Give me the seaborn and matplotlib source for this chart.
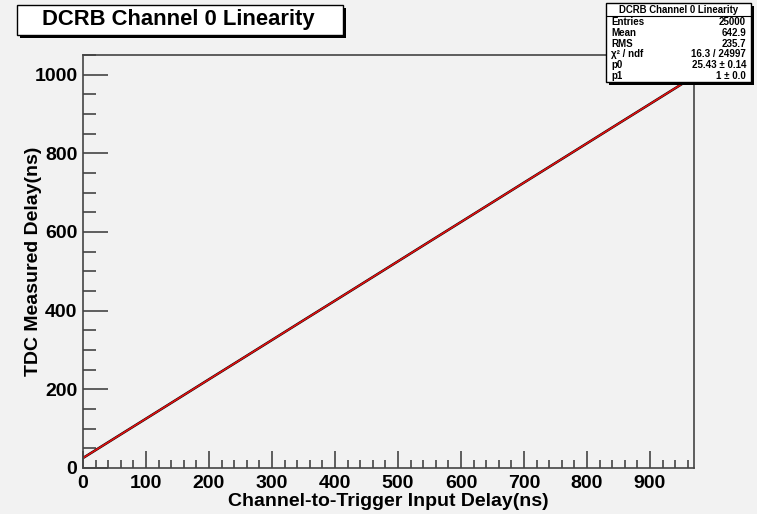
import numpy as np
import pandas as pd
import matplotlib
matplotlib.use('Agg')
import matplotlib.pyplot as plt
from matplotlib.patches import Rectangle
from matplotlib.ticker import MultipleLocator
import seaborn as sns

# values
input_delay = [0, 50, 100, 150, 200, 250, 300, 350, 400, 450, 500,
               550, 600, 650, 700, 750, 800, 850, 900, 960]
measured_delay = [25.4, 75.5, 125.4, 175.4, 225.5, 275.4, 325.4, 375.5, 425.4, 475.4, 525.4,
                  575.5, 625.4, 675.4, 725.5, 775.4, 825.4, 875.5, 925.4, 985.4]
stat_names = ['Entries', 'Mean', 'RMS', '\u03c7\u00b2 / ndf', 'p0', 'p1']
stat_values = ['25000', '642.9', '235.7', '16.3 / 24997', '25.43 \u00b1 0.14', '1 \u00b1 0.0']
p0, p1 = 25.43, 1.0
title = 'DCRB Channel 0 Linearity'

sns.set_style('white')
plt.rcParams['font.family'] = ['Liberation Sans', 'DejaVu Sans']
plt.rcParams['font.weight'] = 'bold'
plt.rcParams['text.color'] = 'black'
plt.rcParams['xtick.labelcolor'] = 'black'
plt.rcParams['ytick.labelcolor'] = 'black'
plt.rcParams['axes.labelcolor'] = 'black'
bg = '#f2f2f2'
axc = '#444444'

fig = plt.figure(figsize=(7.57, 5.14), dpi=100, facecolor=bg)
ax = fig.add_axes([83 / 757, 1 - 468 / 514, 611 / 757, 413 / 514])
ax.set_facecolor(bg)

df = pd.DataFrame({'x': input_delay, 'y': measured_delay})
sns.lineplot(data=df, x='x', y='y', ax=ax, color='black', linewidth=1.8)
fit = pd.DataFrame({'x': [input_delay[0], input_delay[-1]]})
fit['y'] = p0 + p1 * fit['x']
sns.lineplot(data=fit, x='x', y='y', ax=ax, color='#e01010', linewidth=1.2)

ax.set_xlim(0, 970)
ax.set_ylim(0, 1050)
ax.xaxis.set_major_locator(MultipleLocator(100))
ax.xaxis.set_minor_locator(MultipleLocator(20))
ax.yaxis.set_major_locator(MultipleLocator(200))
ax.yaxis.set_minor_locator(MultipleLocator(50))
for s in ax.spines.values():
    s.set_color(axc)
    s.set_linewidth(1.2)
ax.tick_params(axis='x', which='major', direction='in', length=12, width=1.2,
               color=axc, labelsize=14, pad=5, bottom=True, top=False)
ax.tick_params(axis='x', which='minor', direction='in', length=6, width=1.2,
               color=axc, bottom=True, top=False)
ax.tick_params(axis='y', which='major', direction='in', length=18, width=1.2,
               color=axc, labelsize=14, pad=4, left=True, right=False)
ax.tick_params(axis='y', which='minor', direction='in', length=9, width=1.2,
               color=axc, left=True, right=False)
for lab in ax.get_xticklabels() + ax.get_yticklabels():
    lab.set_fontweight('bold')
ax.set_xlabel('Channel-to-Trigger Input Delay(ns)', fontsize=14, fontweight='bold')
ax.set_ylabel('TDC Measured Delay(ns)', fontsize=14, fontweight='bold')
ax.xaxis.set_label_coords(0.5, -0.061)
ax.yaxis.set_label_coords(-0.067, 0.501)


def box(x0, y0, x1, y1):
    W, H = 757, 514
    fig.patches.append(Rectangle((x0 / W + 3 / W, 1 - (y1 + 3) / H), (x1 - x0) / W, (y1 - y0) / H,
                                 transform=fig.transFigure, facecolor='black', edgecolor='none', zorder=5))
    fig.patches.append(Rectangle((x0 / W, 1 - y1 / H), (x1 - x0) / W, (y1 - y0) / H,
                                 transform=fig.transFigure, facecolor='white', edgecolor='black',
                                 linewidth=1, zorder=6))


box(17, 5, 343, 35)
fig.text(178 / 757, 1 - 20 / 514, title, ha='center', va='center', fontsize=15.8,
         fontweight='bold', zorder=7)

box(606, 3, 751, 82)
fig.text(679 / 757, 1 - 10 / 514, title, ha='center', va='center', fontsize=6.9,
         fontweight='bold', zorder=7)
fig.add_artist(plt.Line2D([606 / 757, 751 / 757], [1 - 16 / 514, 1 - 16 / 514],
                          transform=fig.transFigure, color='black', linewidth=0.8, zorder=7))
for i, (n, v) in enumerate(zip(stat_names, stat_values)):
    yy = 1 - (22 + i * 10.8) / 514
    fig.text(611 / 757, yy, n, ha='left', va='center', fontsize=7, fontweight='bold', zorder=7)
    fig.text(746 / 757, yy, v, ha='right', va='center', fontsize=7, fontweight='bold', zorder=7)

fig.savefig('out.png', dpi=100, facecolor=bg)
